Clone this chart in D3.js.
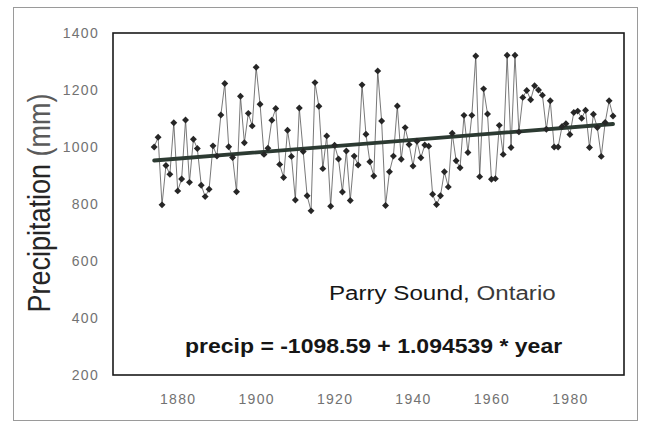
<!DOCTYPE html>
<html>
<head>
<meta charset="utf-8">
<script src="https://cdn.jsdelivr.net/npm/d3@7"></script>
<style>
  body { margin: 0; background: #fff; }
  text { font-family: "Liberation Sans", Arial, Helvetica, sans-serif; }
</style>
</head>
<body>
<script>
// annual precipitation, Parry Sound (mm), one value per year from firstYear
var firstYear = 1874;
var precip = [
  1000, 1034, 797, 935, 904, 1085, 846, 888, 1095, 876,
  1027, 995, 866, 826, 852, 1004, 968, 1112, 1223, 1001,
  963, 843, 1178, 1015, 1118, 1074, 1280, 1150, 974, 996,
  1094, 1135, 939, 893, 1059, 967, 814, 1137, 984, 829,
  776, 1226, 1143, 924, 1039, 792, 1006, 958, 842, 986,
  812, 968, 937, 1218, 1045, 948, 898, 1267, 1091, 795,
  913, 968, 1144, 957, 1068, 1009, 933, 1020, 962, 1007,
  1003, 834, 798, 829, 913, 860, 1048, 952, 927, 1111,
  981, 1111, 1319, 896, 1204, 1116, 887, 889, 1076, 974,
  1322, 998, 1322, 1053, 1174, 1198, 1166, 1215, 1200, 1182,
  1062, 1162, 1000, 1000, 1072, 1082, 1044, 1121, 1126, 1101,
  1129, 998, 1115, 1068, 967, 1086, 1162, 1109
];
var years = precip.map(function (d, i) { return firstYear + i; });

var yTicks = [200, 400, 600, 800, 1000, 1200, 1400];
var xTicks = [1880, 1900, 1920, 1940, 1960, 1980];

// regression from the chart
var intercept = -1098.59, slope = 1.094539;
var equationLabel = "precip = -1098.59 + 1.094539 * year";
var stationName = "Parry Sound,";
var provinceName = " Ontario";
var yTitle = "Precipitation";
var yUnit = " (mm)";

var W = 645, H = 424;
var box = {left: 113, top: 33, right: 624, bottom: 375};

var svg = d3.select("body").append("svg")
    .attr("width", W)
    .attr("height", H);

svg.append("rect")
    .attr("x", 13.5).attr("y", 7.5)
    .attr("width", 624).attr("height", 413)
    .attr("fill", "#fff")
    .attr("stroke", "#9a9a9a");

var x = d3.scaleLinear()
    .domain([1863.5, 1993.8])
    .range([box.left, box.right]);

var y = d3.scaleLinear()
    .domain([200, 1400])
    .range([box.bottom, box.top]);

// y tick labels
svg.append("g")
    .attr("transform", "translate(" + box.left + ",0)")
    .call(d3.axisLeft(y).tickValues(yTicks).tickFormat(d3.format("d")).tickSize(0).tickPadding(14))
    .call(function (g) { g.select(".domain").remove(); })
    .selectAll("text")
      .attr("fill", "#727272")
      .style("font-size", "14px")
      .style("letter-spacing", "1.3px");

// x tick labels
svg.append("g")
    .attr("transform", "translate(0," + box.bottom + ")")
    .call(d3.axisBottom(x).tickValues(xTicks).tickFormat(d3.format("d")).tickSize(0).tickPadding(19))
    .call(function (g) { g.select(".domain").remove(); })
    .selectAll("text")
      .attr("fill", "#727272")
      .style("font-size", "14px")
      .style("letter-spacing", "1.3px");

// plot frame
svg.append("rect")
    .attr("x", box.left).attr("y", box.top)
    .attr("width", box.right - box.left)
    .attr("height", box.bottom - box.top)
    .attr("fill", "none")
    .attr("stroke", "#1a1a1a")
    .attr("stroke-width", 1.6);

var series = years.map(function (yr, i) { return {year: yr, value: precip[i]}; });

var line = d3.line()
    .x(function (d) { return x(d.year); })
    .y(function (d) { return y(d.value); });

svg.append("path")
    .datum(series)
    .attr("fill", "none")
    .attr("stroke", "#555")
    .attr("stroke-width", 0.8)
    .attr("d", line);

// trend line
var ext = d3.extent(years);
svg.append("line")
    .attr("x1", x(ext[0])).attr("y1", y(intercept + slope * ext[0]))
    .attr("x2", x(ext[1])).attr("y2", y(intercept + slope * ext[1]))
    .attr("stroke", "#2c3a32")
    .attr("stroke-width", 3.8)
    .attr("stroke-linecap", "round");

// diamond markers
var diamond = d3.symbol().type(d3.symbolSquare).size(24);
svg.append("g").selectAll("path")
    .data(series)
    .enter().append("path")
      .attr("d", diamond)
      .attr("transform", function (d) {
        return "translate(" + x(d.year) + "," + y(d.value) + ") rotate(45)";
      })
      .attr("fill", "#262626");

// y axis title
var yt = svg.append("text")
    .attr("transform", "translate(50,203) rotate(-90) scale(1,1.15)")
    .attr("text-anchor", "middle")
    .style("font-size", "27px");
yt.append("tspan").attr("fill", "#262626").text(yTitle);
yt.append("tspan").attr("fill", "#5a5a5a").text(yUnit);

// station label
var st = svg.append("text")
    .attr("transform", "translate(329,300) scale(1.15,1)")
    .style("font-size", "21px");
st.append("tspan").attr("fill", "#161616").text(stationName);
st.append("tspan").attr("fill", "#3a3a3a").text(provinceName);

// regression equation
svg.append("text")
    .attr("transform", "translate(185,353) scale(1.15,1)")
    .attr("fill", "#161616")
    .style("font-size", "20px")
    .style("font-weight", "bold")
    .text(equationLabel);
</script>
</body>
</html>
